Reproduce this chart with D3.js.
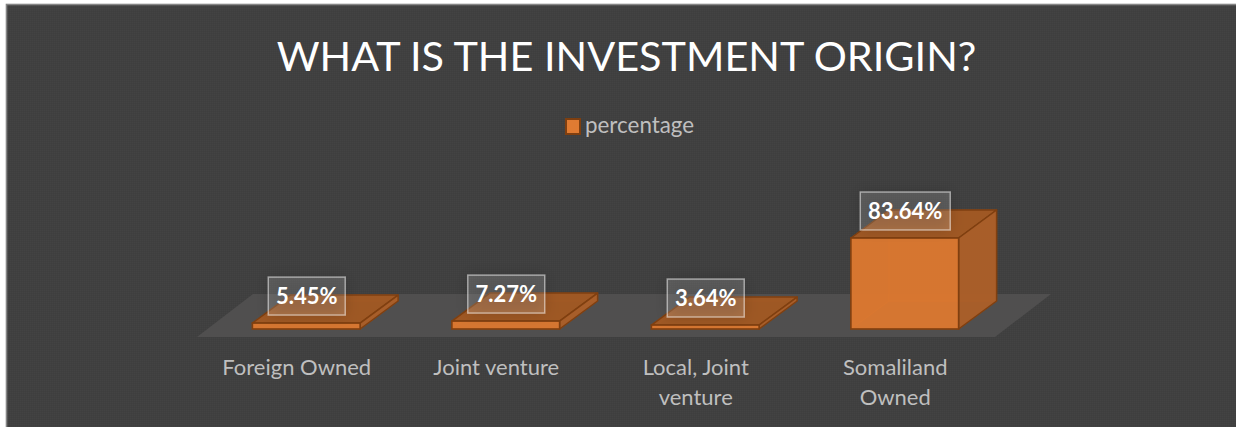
<!DOCTYPE html>
<html>
<head>
<meta charset="utf-8">
<script src="https://cdn.jsdelivr.net/npm/d3@7"></script>
<style>
  html, body { margin: 0; padding: 0; background: #fff; }
  svg { display: block; }
  text { font-family: Lato, "Open Sans", sans-serif; }
</style>
</head>
<body>
<div id="chart"></div>
<script>
const categories = ["Foreign Owned", "Joint venture", "Local, Joint venture", "Somaliland Owned"];
const categoryLines = [["Foreign Owned"], ["Joint venture"], ["Local, Joint", "venture"], ["Somaliland", "Owned"]];
const percentage = [5.45, 7.27, 3.64, 83.64];
const seriesName = "percentage";
const chartTitle = "WHAT IS THE INVESTMENT ORIGIN?";

const width = 1236, height = 427;
const depthX = 38, depthY = 28;   // how far the 3d bars go backward

const svg = d3.select("#chart").append("svg")
    .attr("width", width)
    .attr("height", height);

const defs = svg.append("defs");

// dark background has a very fine weave in it
const weave = defs.append("pattern")
    .attr("id", "weave")
    .attr("width", 2).attr("height", 2)
    .attr("patternUnits", "userSpaceOnUse");
weave.append("rect").attr("width", 2).attr("height", 2).attr("fill", "#404040");
weave.append("rect").attr("width", 1).attr("height", 1).attr("fill", "#434343");
weave.append("rect").attr("x", 1).attr("y", 1).attr("width", 1).attr("height", 1).attr("fill", "#3e3e3e");

defs.append("filter").attr("id", "soft")
    .attr("x", "-30%").attr("y", "-30%").attr("width", "160%").attr("height", "160%")
  .append("feGaussianBlur").attr("stdDeviation", 7);

// chart background
svg.append("rect")
    .attr("x", 6.5).attr("y", 4.5)
    .attr("width", width).attr("height", height)
    .attr("fill", "url(#weave)")
    .attr("stroke", "#858585")
    .attr("stroke-width", 1.6);

// scales
const x = d3.scaleBand()
    .domain(categories)
    .range([206.5, 1004.5])
    .paddingInner(0.46)
    .paddingOuter(0.23);

const y = d3.scaleLinear()
    .domain([0, 100])
    .range([329, 220.2]);

// floor of the 3d chart
const floorY0 = 337, floorY1 = 294;
svg.append("path")
    .attr("d", d3.line()([[197, floorY0], [995, floorY0], [1051, floorY1], [253, floorY1]]) + "Z")
    .attr("fill", "#504f4f");

// bars
const bars = svg.append("g")
    .selectAll("g")
    .data(categories.map((c, i) => ({cat: c, value: percentage[i]})))
    .join("g");

function face(points) {
  return d3.line()(points) + "Z";
}

const edge = "#7f3f10";

// back faces, they show through the front a little
bars.append("path")
    .attr("d", d => {
      const x0 = x(d.cat), x1 = x0 + x.bandwidth(), t = y(d.value), b = y(0);
      return face([[x0 + depthX, t - depthY], [x1 + depthX, t - depthY], [x1 + depthX, b - depthY], [x0 + depthX, b - depthY]]);
    })
    .attr("fill", "#a85c26")
    .attr("fill-opacity", 0.55)
    .attr("stroke", "#bd6a2b")
    .attr("stroke-opacity", 0.6);

bars.append("path")
    .attr("d", d => {
      const x0 = x(d.cat), x1 = x0 + x.bandwidth(), b = y(0);
      return face([[x0, b], [x0 + depthX, b - depthY], [x1 + depthX, b - depthY], [x1, b]]);
    })
    .attr("fill", "#a85c26")
    .attr("fill-opacity", 0.35)
    .attr("stroke", "#bd6a2b")
    .attr("stroke-opacity", 0.6);

bars.append("path")
    .attr("d", d => {
      const x0 = x(d.cat), t = y(d.value), b = y(0);
      return face([[x0, t], [x0 + depthX, t - depthY], [x0 + depthX, b - depthY], [x0, b]]);
    })
    .attr("fill", "#a85c26")
    .attr("fill-opacity", 0.55)
    .attr("stroke", "#bd6a2b")
    .attr("stroke-opacity", 0.6);

// top
bars.append("path")
    .attr("d", d => {
      const x0 = x(d.cat), x1 = x0 + x.bandwidth(), t = y(d.value);
      return face([[x0, t], [x0 + depthX, t - depthY], [x1 + depthX, t - depthY], [x1, t]]);
    })
    .attr("fill", "#a05823")
    .attr("fill-opacity", 0.96)
    .attr("stroke", edge)
    .attr("stroke-width", 1.5)
    .attr("stroke-linejoin", "round");

// side
bars.append("path")
    .attr("d", d => {
      const x1 = x(d.cat) + x.bandwidth(), t = y(d.value), b = y(0);
      return face([[x1, t], [x1 + depthX, t - depthY], [x1 + depthX, b - depthY], [x1, b]]);
    })
    .attr("fill", "#ab5f28")
    .attr("fill-opacity", 0.94)
    .attr("stroke", edge)
    .attr("stroke-width", 1.5)
    .attr("stroke-linejoin", "round");

// front
bars.append("rect")
    .attr("x", d => x(d.cat))
    .attr("y", d => y(d.value))
    .attr("width", x.bandwidth())
    .attr("height", d => y(0) - y(d.value))
    .attr("fill", "#dc7830")
    .attr("fill-opacity", 0.94)
    .attr("stroke", edge)
    .attr("stroke-width", 1.6);

// data labels
const labelW = d => d.value >= 10 ? 90 : 77;
const labels = svg.append("g")
    .selectAll("g")
    .data(categories.map((c, i) => ({cat: c, value: percentage[i]})))
    .join("g")
    .attr("transform", d => `translate(${x(d.cat) + x.bandwidth() / 2 + 0.5},${y(d.value) - 27})`);

// soft dark shadow behind each label box
labels.append("rect")
    .attr("x", d => -labelW(d) / 2)
    .attr("y", -19)
    .attr("width", labelW)
    .attr("height", 38)
    .attr("fill", "#000")
    .attr("fill-opacity", 0.16)
    .attr("filter", "url(#soft)");

labels.append("rect")
    .attr("x", d => -labelW(d) / 2)
    .attr("y", -19)
    .attr("width", labelW)
    .attr("height", 38)
    .attr("fill", "#fff")
    .attr("fill-opacity", 0.16)
    .attr("stroke", "#fff")
    .attr("stroke-opacity", 0.5)
    .attr("stroke-width", 1.5);

labels.append("text")
    .attr("text-anchor", "middle")
    .attr("y", 8)
    .attr("fill", "#fff")
    .style("font-size", "22px")
    .style("font-weight", 700)
    .text(d => d.value.toFixed(2) + "%");

// category labels
svg.append("g")
    .selectAll("text")
    .data(categories.map((c, i) => ({cat: c, lines: categoryLines[i]})))
    .join("text")
    .attr("text-anchor", "middle")
    .attr("fill", "#bfbfbf")
    .style("font-size", "22px")
    .each(function (d) {
      d3.select(this).selectAll("tspan")
        .data(d.lines)
        .join("tspan")
        .attr("x", x(d.cat) + x.bandwidth() / 2 - 9.5)
        .attr("y", (l, i) => 375 + i * 30)
        .text(l => l);
    });

// title
svg.append("text")
    .attr("x", 626.5)
    .attr("y", 71)
    .attr("text-anchor", "middle")
    .attr("fill", "#fff")
    .style("font-size", "41.4px")
    .text(chartTitle);

// legend
svg.append("rect")
    .attr("x", 566).attr("y", 119)
    .attr("width", 14).attr("height", 15)
    .attr("fill", "#e07b32")
    .attr("stroke", edge)
    .attr("stroke-width", 2);

svg.append("text")
    .attr("x", 585)
    .attr("y", 133)
    .attr("fill", "#bfbfbf")
    .style("font-size", "22.4px")
    .text(seriesName);
</script>
</body>
</html>
